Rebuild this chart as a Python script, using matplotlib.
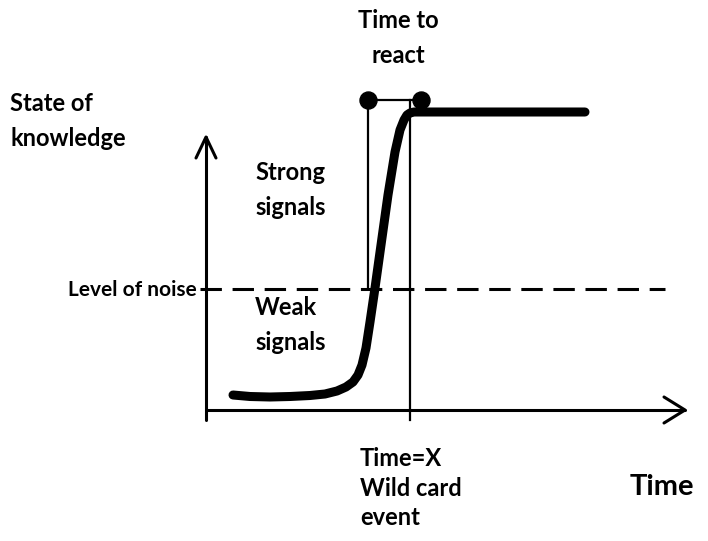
import matplotlib
matplotlib.use("Agg")
import matplotlib.pyplot as plt
import numpy as np

# Diagram data (in canvas pixel units, y downward)
curve_x = [233, 250, 270, 290, 310, 325, 337, 346, 353, 358, 362, 366, 370, 375, 381, 388, 395, 400, 404, 407, 410, 414, 420, 430, 585]
curve_y = [395, 396.5, 397, 396.5, 395.5, 394, 391, 387, 382, 375, 365, 348, 322, 288, 245, 195, 152, 130, 120, 115, 113, 112, 112, 112, 112]
noise_level = 289
event_x = 410
react_start_x = 368
react_y = 100
labels = {
    "state": "State of\nknowledge",
    "react": "Time to\nreact",
    "strong": "Strong\nsignals",
    "weak": "Weak\nsignals",
    "noise": "Level of noise",
    "event": "Time=X\nWild card\nevent",
    "time": "Time",
}

fig = plt.figure(figsize=(7.08, 5.41), dpi=100)
ax = fig.add_axes([0, 0, 1, 1])
ax.set_xlim(0, 708)
ax.set_ylim(541, 0)
ax.axis("off")

font = "Lato"
k = "black"

# axes arrows
ax.plot([206, 206], [420, 137], color=k, lw=2.2, solid_capstyle="round")
ax.plot([196, 206, 216], [158, 137, 158], color=k, lw=2.2, solid_capstyle="round", solid_joinstyle="round")
ax.plot([206, 685], [410, 410], color=k, lw=2.2, solid_capstyle="round")
ax.plot([664, 685, 664], [397, 410, 423], color=k, lw=2.2, solid_capstyle="round", solid_joinstyle="round")

# noise level dashed
ax.plot([200, 665], [noise_level, noise_level], color=k, lw=2.2, dashes=(7, 3.5))

# event vertical
ax.plot([event_x, event_x], [react_y, 420], color=k, lw=1.6)
# react start vertical
ax.plot([react_start_x, react_start_x], [react_y, noise_level], color=k, lw=1.6)
# time to react bar
ax.plot([react_start_x, 421], [react_y, react_y], color=k, lw=1.6)
ax.scatter([react_start_x, 421], [react_y, react_y], s=150, color=k, zorder=5)

# curve
ax.plot(curve_x, curve_y, color=k, lw=6.5, solid_capstyle="round", solid_joinstyle="round", zorder=4)

# texts
kw = dict(fontfamily=font, fontsize=17, fontweight="bold", color=k)
ax.text(10, 121, labels["state"], ha="left", va="center", linespacing=1.6, **kw)
ax.text(398, 38, labels["react"], ha="center", va="center", linespacing=1.6, **kw)
ax.text(255, 190, labels["strong"], ha="left", va="center", linespacing=1.6, **kw)
ax.text(255, 325, labels["weak"], ha="left", va="center", linespacing=1.6, **kw)
ax.text(360, 488, labels["event"], ha="left", va="center", linespacing=1.35, **kw)
ax.text(630, 487, labels["time"], ha="left", va="center", fontfamily=font, fontsize=21,
        fontweight="bold", color=k)
ax.text(68, 290, labels["noise"], ha="left", va="center", fontfamily=font, fontsize=15,
        fontweight="bold", color=k, zorder=6)

fig.savefig("out.png", dpi=100)
